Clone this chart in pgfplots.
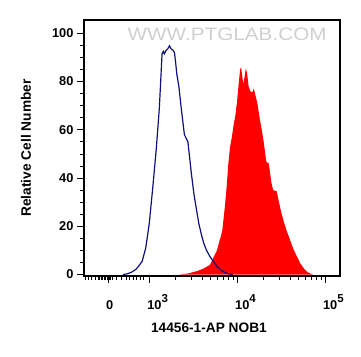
\documentclass[border=0pt]{standalone}
\usepackage{pgfplots}
\pgfplotsset{compat=1.18}
\usepackage{fontspec}
\setmainfont{Liberation Sans}
\definecolor{navyline}{RGB}{15,15,125}
\definecolor{ptred}{RGB}{255,0,0}
\newcommand{\sups}[1]{10\raisebox{6.3pt}{\fontsize{11.5}{11.5}\selectfont #1}}
\begin{document}
\begin{tikzpicture}
\path[use as bounding box] (-84pt,-80pt) rectangle (277pt,276pt);
\begin{axis}[
  at={(0pt,0pt)}, anchor=south west,
  scale only axis, width=256pt, height=256pt,
  xmin=2.258, xmax=5.17, ymin=-0.6, ymax=105.5,
  axis line style={line width=1.1pt},
  tick pos=left,
  tick align=outside,
  major tick length=7pt, minor tick length=4pt,
  every tick/.style={black, line width=1pt},
  minor tick style={black, line width=0.8pt},
  xtick={2.533,3,4,5},
  xticklabels={0,\sups{3},\sups{4},\sups{5}},
  minor xtick={2.269,2.308,2.345,2.383,2.417,2.435,2.453,2.471,2.489,2.507,2.525,2.543,2.561,2.576,2.63,2.686,2.743,2.78,2.818,2.857,2.894,2.932,3.301,3.477,3.602,3.699,3.778,3.845,3.903,3.954,4.301,4.477,4.602,4.699,4.778,4.845,4.903,4.954},
  ytick={0,20,40,60,80,100},
  yticklabels={0,20,40,60,80,100},
  minor ytick={5,10,15,25,30,35,45,50,55,65,70,75,85,90,95},
  xticklabel style={font=\fontsize{12.8}{12.8}\selectfont\bfseries, anchor=base west, xshift=-5.5pt, yshift=-26pt},
  yticklabel style={font=\fontsize{12.8}{12.8}\selectfont\bfseries},
  xlabel={14456-1-AP NOB1},
  ylabel={Relative Cell Number},
  xlabel style={font=\fontsize{13.7}{13.7}\selectfont\bfseries, at={(axis description cs:0.488,-0.203)}, anchor=center},
  ylabel style={font=\fontsize{13.7}{13.7}\selectfont\bfseries, at={(axis description cs:-0.227,0.5)}, anchor=center},
  clip=true,
]
\node[text=gray!38, font=\fontsize{18}{18}\selectfont, xscale=1.15] at (rel axis cs:0.559,0.943) {WWW.PTGLAB.COM};
\addplot[fill=ptred, draw=none] table {
3.35 0
3.45 0.5
3.55 1.5
3.62 2.5
3.69 4
3.73 7
3.77 10
3.80 14
3.83 18
3.86 28
3.88 36
3.90 46
3.92 53
3.94 57
3.96 62
3.98 66
4.00 72
4.02 80
4.034 85
4.045 86
4.055 83
4.07 79
4.085 82
4.10 85.5
4.115 83
4.13 78
4.15 76
4.17 75.5
4.19 77
4.21 74
4.23 71
4.26 64
4.28 60
4.30 55.5
4.32 50
4.33 47
4.34 46.5
4.36 46
4.375 42
4.39 38
4.41 35
4.45 34.5
4.47 31
4.50 26
4.53 22
4.56 18.5
4.60 14.5
4.64 10.5
4.68 7.5
4.72 4.5
4.76 2.5
4.80 1
4.86 0
} \closedcycle;
\addplot[navyline, line width=1.2pt] table {
2.70 0
2.75 0.3
2.80 1.0
2.85 2.2
2.88 3.5
2.92 5.5
2.96 11
3.00 21
3.04 36
3.08 52
3.115 69
3.146 91.5
3.16 92.5
3.172 91.5
3.19 92.8
3.21 93.5
3.23 94.8
3.25 93.5
3.27 93
3.287 92
3.30 88
3.314 83
3.337 78
3.364 69
3.40 58
3.44 55
3.479 42
3.51 33
3.537 27
3.565 21
3.594 16.5
3.62 13
3.652 10
3.69 7.5
3.728 5.5
3.78 3
3.83 1.5
3.88 0.5
3.95 0
};
\end{axis}
\end{tikzpicture}
\end{document}
